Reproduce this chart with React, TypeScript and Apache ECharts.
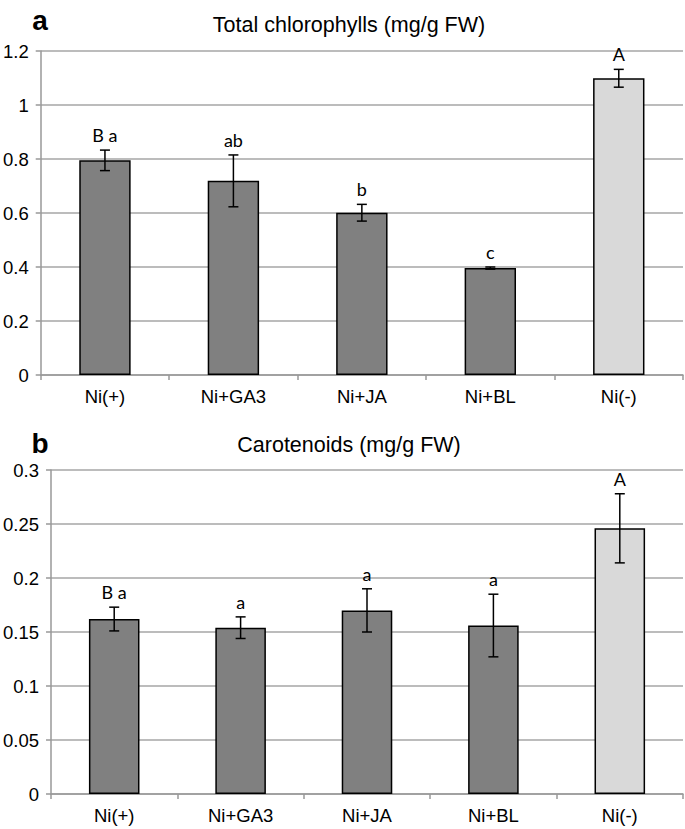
import React, { useEffect, useRef } from "react";
import * as echarts from "echarts";

const categories = ["Ni(+)", "Ni+GA3", "Ni+JA", "Ni+BL", "Ni(-)"];

const chlValues = [0.795, 0.719, 0.601, 0.396, 1.099];
const chlErrors = [0.038, 0.096, 0.031, 0.004, 0.033];
const chlLetters = ["B a", "ab", "b", "c", "A"];
const chlTicks = [0, 1.2, 0.2];

const carValues = [0.162, 0.154, 0.17, 0.156, 0.246];
const carErrors = [0.011, 0.01, 0.02, 0.029, 0.032];
const carLetters = ["B a", "a", "a", "a", "A"];
const carTicks = [0, 0.3, 0.05];

const titles = ["Total chlorophylls (mg/g FW)", "Carotenoids (mg/g FW)"];
const panelLabels = ["a", "b"];

const DARK = "#808080";
const LIGHT = "#d9d9d9";
const GRID = "#a6a6a6";
const FONT = "'Liberation Sans', Arial, sans-serif";
const LETTER_FONT = "Lato, 'Open Sans', sans-serif";

function makeErr(letters: string[]) {
  return (params: any, api: any) => {
    const i = api.value(0);
    const v = api.value(1);
    const e = api.value(2);
    const top = api.coord([i, v + e]);
    const bot = api.coord([i, v - e]);
    const x = top[0];
    const st = { stroke: "#000", lineWidth: 1.5 };
    return {
      type: "group",
      children: [
        { type: "line", shape: { x1: x, y1: top[1], x2: x, y2: bot[1] }, style: st },
        { type: "line", shape: { x1: x - 5, y1: top[1], x2: x + 5, y2: top[1] }, style: st },
        { type: "line", shape: { x1: x - 5, y1: bot[1], x2: x + 5, y2: bot[1] }, style: st },
        {
          type: "text",
          style: {
            text: letters[params.dataIndex],
            x: x,
            y: top[1] - 6,
            align: "center",
            verticalAlign: "bottom",
            font: `18px ${LETTER_FONT}`,
            fill: "#000",
          },
        },
      ],
    };
  };
}

export default function App() {
  const ref = useRef<HTMLDivElement>(null);
  useEffect(() => {
    document.body.style.margin = "0";
    const chart = echarts.init(ref.current!, null, { renderer: "svg" });
    const grids = [
      { left: 40, top: 51, width: 643, height: 324 },
      { left: 50, top: 470, width: 633, height: 324 },
    ];
    const ticks = [chlTicks, carTicks];
    const xAxes = grids.map((_, gi) => ({
      type: "category",
      gridIndex: gi,
      data: categories,
      axisLine: { lineStyle: { color: "#999", width: 1.5 } },
      axisTick: { show: true, length: 5, interval: 0, lineStyle: { color: "#999", width: 1.5 } },
      axisLabel: { color: "#000", fontSize: 18.5, fontFamily: FONT, margin: 12, interval: 0 },
    }));
    const yAxes = grids.map((_, gi) => ({
      type: "value",
      gridIndex: gi,
      min: ticks[gi][0],
      max: ticks[gi][1],
      interval: ticks[gi][2],
      axisLine: { show: true, lineStyle: { color: "#999", width: 1.5 } },
      axisTick: { show: true, length: 5, lineStyle: { color: "#999", width: 1.5 } },
      splitLine: { show: true, lineStyle: { color: GRID, width: 1.5 } },
      axisLabel: {
        color: "#000",
        fontSize: 18.5,
        fontFamily: FONT,
        margin: 12,
        formatter: (v: number) => String(+v.toFixed(2)),
      },
    }));
    const sets = [
      { values: chlValues, errors: chlErrors, letters: chlLetters },
      { values: carValues, errors: carErrors, letters: carLetters },
    ];
    const series: any[] = [];
    sets.forEach((s, gi) => {
      series.push({
        type: "bar",
        xAxisIndex: gi,
        yAxisIndex: gi,
        data: s.values,
        barWidth: "40%",
        itemStyle: {
          color: (p: any) => (p.dataIndex === categories.length - 1 ? LIGHT : DARK),
          borderColor: "#000",
          borderWidth: 1.5,
        },
      });
      series.push({
        type: "custom",
        xAxisIndex: gi,
        yAxisIndex: gi,
        clip: false,
        z: 10,
        encode: { x: 0, y: 1 },
        data: s.values.map((v, i) => [i, v, s.errors[i]]),
        renderItem: makeErr(s.letters),
      });
    });
    const graphic: any[] = [];
    const titleY = [25, 445];
    const labelY = [20, 443];
    titles.forEach((t, i) => {
      graphic.push({
        type: "text",
        x: 349,
        y: titleY[i],
        style: {
          text: t,
          font: `21.5px ${FONT}`,
          fill: "#000",
          align: "center",
          verticalAlign: "middle",
        },
      });
      graphic.push({
        type: "text",
        x: 40,
        y: labelY[i],
        style: {
          text: panelLabels[i],
          font: `bold 28px ${FONT}`,
          fill: "#000",
          align: "center",
          verticalAlign: "middle",
        },
      });
    });
    chart.setOption({
      animation: false,
      backgroundColor: "#fff",
      grid: grids,
      xAxis: xAxes,
      yAxis: yAxes,
      series,
      graphic,
    });
    return () => chart.dispose();
  }, []);
  return <div ref={ref} style={{ width: 685, height: 829 }} />;
}
